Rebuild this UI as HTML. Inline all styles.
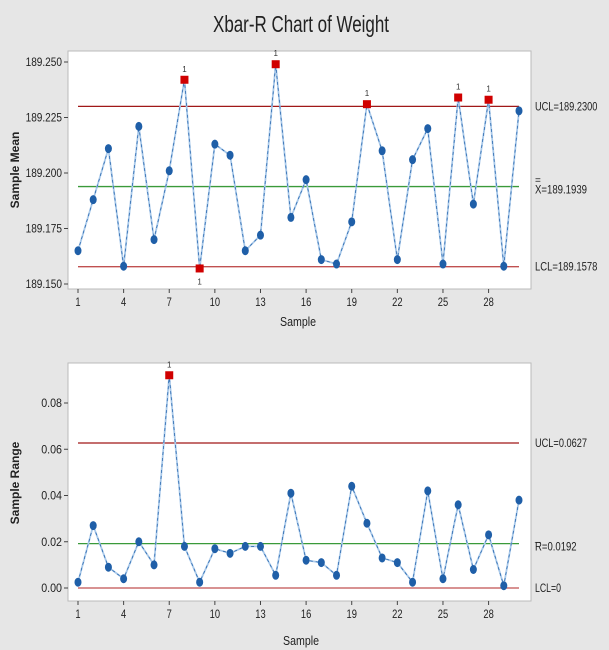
<!DOCTYPE html>
<html><head><meta charset="utf-8"><style>
body{margin:0;background:#e6e6e6;}
svg{display:block;font-family:"Liberation Sans",sans-serif;}
</style></head><body>
<svg id="c" width="609" height="650">
<rect x="0" y="0" width="609" height="650" fill="#e6e6e6"/>
<text x="213" y="32" font-size="23" textLength="176" lengthAdjust="spacingAndGlyphs" fill="#222">Xbar-R Chart of Weight</text>
<rect x="68" y="51" width="463" height="238" fill="#fff" stroke="#bbb"/>
<rect x="68" y="363" width="463" height="238" fill="#fff" stroke="#bbb"/>
<text transform="translate(19,170) rotate(-90)" text-anchor="middle" font-size="12" font-weight="bold" fill="#222">Sample Mean</text>
<text transform="translate(19,483) rotate(-90)" text-anchor="middle" font-size="12" font-weight="bold" fill="#222">Sample Range</text>
<text x="280" y="326" font-size="13" textLength="36" lengthAdjust="spacingAndGlyphs" fill="#222">Sample</text>
<text x="283" y="645" font-size="13" textLength="36" lengthAdjust="spacingAndGlyphs" fill="#222">Sample</text>
<g id="g"></g>
</svg>
<script>
const means=[189.165,189.188,189.211,189.158,189.221,189.170,189.201,189.242,189.157,189.213,189.208,189.165,189.172,189.249,189.180,189.197,189.161,189.159,189.178,189.231,189.210,189.161,189.206,189.220,189.159,189.234,189.186,189.233,189.158,189.228];
const ranges=[0.0025,0.027,0.009,0.004,0.020,0.010,0.092,0.018,0.0025,0.017,0.015,0.018,0.018,0.0055,0.041,0.012,0.011,0.0055,0.044,0.028,0.013,0.011,0.0025,0.042,0.004,0.036,0.008,0.023,0.001,0.038];
const meanFlags=[8,9,14,20,26,28];
const rangeFlags=[7];
const xTicks=[1,4,7,10,13,16,19,22,25,28];
const meanTicks=[189.150,189.175,189.200,189.225,189.250];
const rangeTicks=[0.00,0.02,0.04,0.06,0.08];
const meanLimits=[189.2300,189.1939,189.1578];
const rangeLimits=[0.0627,0.0192,0];
const meanLabels=["UCL=189.2300","X=189.1939","LCL=189.1578"];
const rangeLabels=["UCL=0.0627","R=0.0192","LCL=0"];
const NS="http://www.w3.org/2000/svg";
const g=document.getElementById('g');
function el(t,a,txt){const e=document.createElementNS(NS,t);for(const k in a)e.setAttribute(k,a[k]);if(txt!==undefined)e.textContent=txt;g.appendChild(e);return e;}
function narrow(e,s){const n=String(s).length;e.setAttribute('textLength',(n*5.2).toFixed(1));e.setAttribute('lengthAdjust','spacingAndGlyphs');}
const xs=i=>78+(i-1)*(519-78)/29;
function panel(vals,flags,ticks,dec,limits,labels,y0v,y0p,y1v,y1p,axY,pref){
  const ys=v=>y0p+(v-y0v)*(y1p-y0p)/(y1v-y0v);
  ticks.forEach(t=>{
    const l=el('line',{x1:64,x2:68,y1:ys(t),y2:ys(t),stroke:'#444'});
    
    
    const s=t.toFixed(dec);
    const tx=el('text',{x:62,y:ys(t)+4,'text-anchor':'end','font-size':12,fill:'#222'},s);
    narrow(tx,s);
    
    
  });
  xTicks.forEach(t=>{
    const l=el('line',{x1:xs(t),x2:xs(t),y1:axY,y2:axY+4,stroke:'#444'});
    
    
    const tx=el('text',{x:xs(t),y:axY+17,'text-anchor':'middle','font-size':12,fill:'#222'},t);
    narrow(tx,t);
    
    
  });
  const cols=['#a01818','#3a9a3a','#c05050'];
  limits.forEach((v,i)=>{
    const l=el('line',{x1:78,x2:519,y1:ys(v),y2:ys(v),stroke:cols[i],'stroke-width':1.3});
    
    
    const ty=(i==1)?ys(v)+7:ys(v)+4;
    const tx=el('text',{x:535,y:ty,'font-size':12,fill:'#222'},labels[i]);
    narrow(tx,labels[i]);
    
    
    if(i==1){const b=el('text',{x:535,y:ty-10,'font-size':10,fill:'#222'},pref=='xbar'?'=':'_');
      
      }
  });
  const pts=vals.map((v,i)=>xs(i+1)+','+ys(v)).join(' ');
  const pl=el('polyline',{points:pts,fill:'none',stroke:'#a9c9ea','stroke-width':1.8});
  
  
  const pl2=el('polyline',{points:pts,fill:'none',stroke:'#1f5fa8','stroke-width':0.7,'stroke-dasharray':'3 3'});
  
  
  vals.forEach((v,i)=>{
    const x=xs(i+1),y=ys(v);
    if(flags.includes(i+1)){
      const r=el('rect',{x:x-4,y:y-4,width:8,height:8,fill:'#d00000'});
      
      
      const below=pref=='xbar'&&v<189.19;
      const tx=el('text',{x:x,y:below?y+16:y-8,'text-anchor':'middle','font-size':8,fill:'#333'},'1');
      
      
    } else {
      const e=el('ellipse',{cx:x,cy:y,rx:3.5,ry:4.5,fill:'#1f5fa8'});
      
      
    }
  });
}
panel(means,meanFlags,meanTicks,3,meanLimits,meanLabels,189.150,284,189.250,62,289,'xbar');
panel(ranges,rangeFlags,rangeTicks,2,rangeLimits,rangeLabels,0,588,0.08,403,601,'range');
</script>
</body></html>
